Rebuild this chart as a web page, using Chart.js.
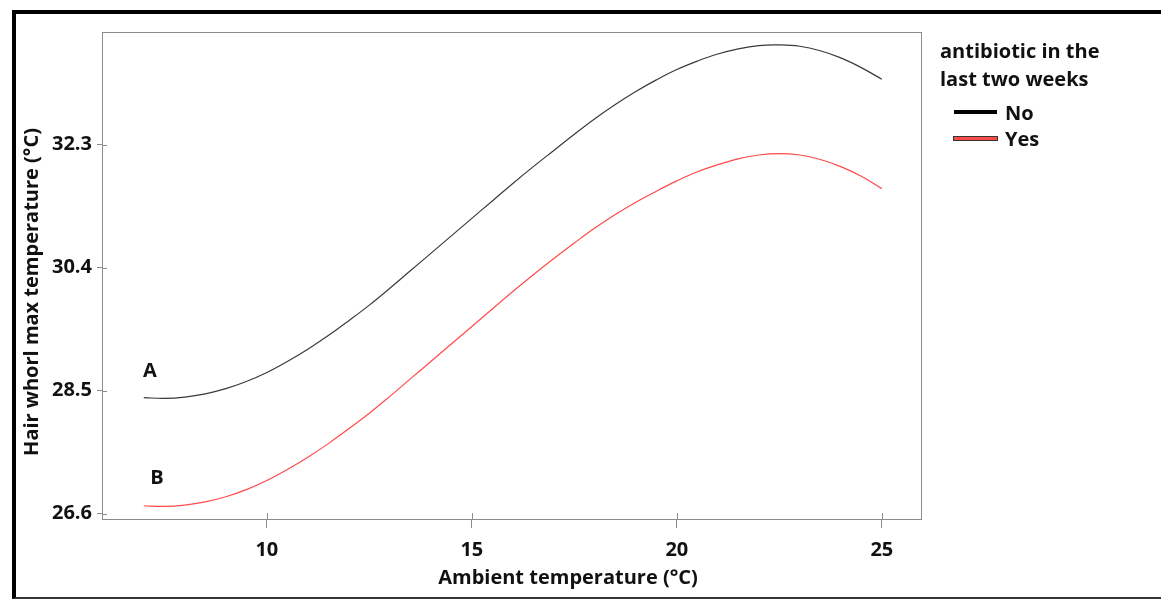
<!DOCTYPE html>
<html>
<head>
<meta charset="utf-8">
<script src="https://cdn.jsdelivr.net/npm/chart.js@4/dist/chart.umd.min.js"></script>
<style>
    body { margin: 0; background: #fff; font-family: "Open Sans", sans-serif; }
    #wrap { position: relative; width: 1161px; height: 599px; overflow: hidden; }
    #frame {
        position: absolute; left: 12px; top: 10px; width: 1200px; height: 583px;
        border-top: 4px solid #000; border-left: 4px solid #000; border-bottom: 2px solid #333;
    }
    #chart { position: absolute; left: 0; top: 0; }
    #legend { position: absolute; left: 940px; top: 37px; font-weight: 700; font-size: 20px; color: #111; }
    #legend .title { line-height: 28px; margin-bottom: 6px; }
    #legend .item { display: flex; align-items: center; height: 26px; margin-left: 14px; }
    #legend .swatch { width: 43px; height: 4px; margin-right: 8px; }
</style>
</head>
<body>
<div id="wrap">
    <div id="frame"></div>
    <canvas id="chart" width="1161" height="599"></canvas>
    <div id="legend"></div>
</div>
<script>
// Ambient temperature (°C)
const ambient = [7, 7.5, 8, 8.5, 9, 9.5, 10, 10.5, 11, 11.5, 12, 12.5, 13, 13.5, 14, 14.5, 15, 15.5,
    16, 16.5, 17, 17.5, 18, 18.5, 19, 19.5, 20, 20.5, 21, 21.5, 22, 22.5, 23, 23.5, 24, 24.5, 25];

// Hair whorl max temperature, antibiotic = No
const noValues = [28.39, 28.38, 28.40, 28.45, 28.53, 28.64, 28.78, 28.95, 29.14, 29.35, 29.58, 29.82,
    30.08, 30.35, 30.62, 30.89, 31.16, 31.43, 31.70, 31.96, 32.21, 32.46, 32.70, 32.92, 33.12, 33.30,
    33.46, 33.59, 33.70, 33.78, 33.83, 33.84, 33.82, 33.75, 33.64, 33.49, 33.31];

// antibiotic = Yes
const yesValues = [26.72, 26.71, 26.73, 26.78, 26.86, 26.97, 27.11, 27.28, 27.47, 27.68, 27.91, 28.15,
    28.41, 28.68, 28.95, 29.22, 29.49, 29.76, 30.03, 30.29, 30.54, 30.78, 31.01, 31.22, 31.41, 31.58,
    31.74, 31.88, 31.99, 32.08, 32.14, 32.16, 32.14, 32.07, 31.96, 31.81, 31.62];

const xTicks = [10, 15, 20, 25];
const yTicks = [26.6, 28.5, 30.4, 32.3];

const seriesNames = ['No', 'Yes'];
const seriesColors = ['#3a3a3a', '#ff4a4a'];
const legendTitle = ['antibiotic in the', 'last two weeks'];

// curve labels
const curveLabels = ['A', 'B'];
const curveLabelX = [7.15, 7.32];
const curveLabelY = [28.80, 27.15];

const FONT = '"Open Sans", sans-serif';

const toPoints = (vals) => ambient.map((x, i) => ({ x: x, y: vals[i] }));

// cadre gris + titres d'axes + étiquettes A/B
const extrasPlugin = {
    id: 'extras',
    afterDraw(chart) {
        const ctx = chart.ctx;
        const a = chart.chartArea;
        const xs = chart.scales.x;
        const ys = chart.scales.y;
        ctx.save();
        ctx.strokeStyle = '#8c8c8c';
        ctx.lineWidth = 1;
        ctx.strokeRect(a.left + 0.5, a.top + 0.5, a.right - a.left - 1, a.bottom - a.top - 1);

        // inner part of tick marks
        ctx.beginPath();
        xTicks.forEach(v => {
            const px = Math.round(xs.getPixelForValue(v)) + 0.5;
            ctx.moveTo(px, a.bottom);
            ctx.lineTo(px, a.bottom - 7);
        });
        yTicks.forEach(v => {
            const py = Math.round(ys.getPixelForValue(v)) + 0.5;
            ctx.moveTo(a.left, py);
            ctx.lineTo(a.left + 5, py);
        });
        ctx.stroke();

        ctx.fillStyle = '#111';
        ctx.font = 'bold 20px ' + FONT;
        ctx.textAlign = 'center';
        ctx.textBaseline = 'middle';
        curveLabels.forEach((t, i) => {
            ctx.fillText(t, xs.getPixelForValue(curveLabelX[i]), ys.getPixelForValue(curveLabelY[i]));
        });

        ctx.fillText('Ambient temperature (°C)', 568, 578);
        ctx.translate(32, 292);
        ctx.rotate(-Math.PI / 2);
        ctx.fillText('Hair whorl max temperature (°C)', 0, 0);
        ctx.restore();
    }
};

const ctx = document.getElementById('chart').getContext('2d');
const chart = new Chart(ctx, {
    type: 'line',
    data: {
        datasets: [
            { label: seriesNames[0], data: toPoints(noValues), borderColor: seriesColors[0], borderWidth: 1.2 },
            { label: seriesNames[1], data: toPoints(yesValues), borderColor: seriesColors[1], borderWidth: 1.2 }
        ]
    },
    options: {
        responsive: false,
        animation: false,
        layout: { padding: { left: 0, top: 32, right: 239, bottom: 0 } },
        elements: {
            point: { radius: 0 },
            line: { tension: 0.4 }
        },
        plugins: {
            legend: { display: false },
            tooltip: { enabled: false }
        },
        scales: {
            x: {
                type: 'linear',
                min: 5.98,
                max: 25.98,
                afterFit: (s) => { s.height = 79; },
                afterBuildTicks: (s) => { s.ticks = xTicks.map(v => ({ value: v })); },
                grid: { drawOnChartArea: false, tickLength: 8, color: '#8c8c8c' },
                border: { display: false },
                ticks: { color: '#111', padding: 10, font: { family: FONT, size: 20, weight: 'bold' } }
            },
            y: {
                type: 'linear',
                min: 26.5,
                max: 34.04,
                afterFit: (s) => { s.width = 102; },
                afterBuildTicks: (s) => { s.ticks = yTicks.map(v => ({ value: v })); },
                grid: { drawOnChartArea: false, tickLength: 5, color: '#8c8c8c' },
                border: { display: false },
                ticks: {
                    color: '#111', padding: 5,
                    font: { family: FONT, size: 20, weight: 'bold' },
                    callback: (v) => v.toFixed(1)
                }
            }
        }
    },
    plugins: [extrasPlugin]
});

// legend
const legendEl = document.getElementById('legend');
legendEl.innerHTML = '<div class="title">' + legendTitle.join('<br>') + '</div>' +
    seriesNames.map((n, i) => {
        const sw = i === 0
            ? 'background:#000;'
            : 'background:' + seriesColors[i] + ';box-shadow:0 0 0 1px #333;height:3px;';
        return '<div class="item"><span class="swatch" style="' + sw + '"></span>' + n + '</div>';
    }).join('');
</script>
</body>
</html>
